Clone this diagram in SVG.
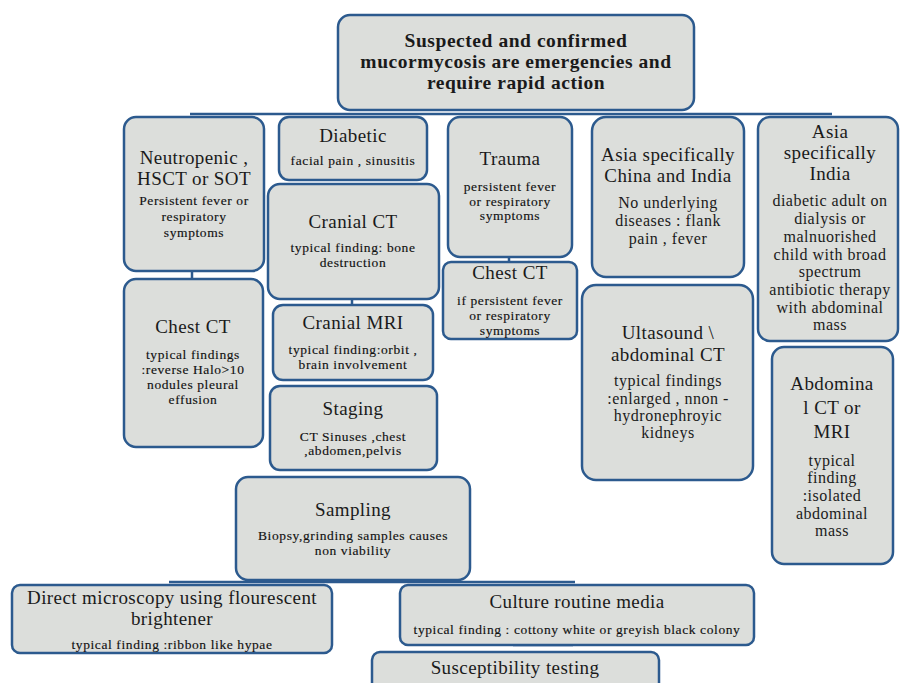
<svg xmlns="http://www.w3.org/2000/svg" width="900" height="683" viewBox="0 0 900 683">
<style>
.box{fill:#dcdedb;stroke:#2c5a8e;stroke-width:2.5}
.t{font-family:"Liberation Serif","DejaVu Serif",serif;fill:#1a1a1a;text-anchor:middle}
.h{font-size:19.5px;font-weight:bold;letter-spacing:0.55px}
.n{font-size:19px;letter-spacing:0.4px}
.s{font-size:13.5px;letter-spacing:0.6px;fill:#111;stroke:#111;stroke-width:0.15px}
.m{font-size:16px;letter-spacing:0.5px}
.c{stroke:#2c5a8e;stroke-width:2.5;fill:none}
</style>
<rect width="900" height="683" fill="#ffffff"/>
<g id="connectors">
<line class="c" x1="190" y1="114" x2="832" y2="114"/>
<line class="c" x1="192" y1="270" x2="192" y2="281"/>
<line class="c" x1="352" y1="298" x2="352" y2="306"/>
<line class="c" x1="509" y1="256" x2="509" y2="264"/>
<line class="c" x1="169" y1="582" x2="575" y2="582"/>
<line class="c" x1="513" y1="645" x2="573" y2="645" stroke-width="4"/>
</g>
<g id="header">
<rect class="box" x="338" y="15" width="356" height="95" rx="12"/>
<text class="t h" x="516" y="47">Suspected and confirmed</text>
<text class="t h" x="516" y="68">mucormycosis are emergencies and</text>
<text class="t h" x="516" y="89">require rapid action</text>
</g>
<g id="neutropenic">
<rect class="box" x="124" y="117" width="140" height="154" rx="12"/>
<text class="t n" x="194" y="164">Neutropenic ,</text>
<text class="t n" x="194" y="185">HSCT or SOT</text>
<text class="t s" x="194" y="205">Persistent fever or</text>
<text class="t s" x="194" y="221">respiratory</text>
<text class="t s" x="194" y="237">symptoms</text>
</g>
<g id="diabetic">
<rect class="box" x="279" y="117" width="148" height="63" rx="10"/>
<text class="t n" x="353" y="142">Diabetic</text>
<text class="t s" x="353" y="165">facial pain , sinusitis</text>
</g>
<g id="cranial-ct">
<rect class="box" x="268" y="184" width="171" height="115" rx="12"/>
<text class="t n" x="353" y="228" font-size="20">Cranial CT</text>
<text class="t s" x="353" y="252">typical finding: bone</text>
<text class="t s" x="353" y="267">destruction</text>
</g>
<g id="trauma">
<rect class="box" x="448" y="117" width="124" height="140" rx="12"/>
<text class="t n" x="510" y="165">Trauma</text>
<text class="t s" x="510" y="191">persistent fever</text>
<text class="t s" x="510" y="206">or respiratory</text>
<text class="t s" x="510" y="220">symptoms</text>
</g>
<g id="chest-ct-trauma">
<rect class="box" x="443" y="262" width="134" height="77" rx="8"/>
<text class="t n" x="510" y="279">Chest CT</text>
<text class="t s" x="510" y="305">if persistent fever</text>
<text class="t s" x="510" y="320">or respiratory</text>
<text class="t s" x="510" y="335">symptoms</text>
</g>
<g id="asia-china-india">
<rect class="box" x="592" y="117" width="152" height="160" rx="14"/>
<text class="t n" x="668" y="161">Asia specifically</text>
<text class="t n" x="668" y="182">China and India</text>
<text class="t m" x="668" y="208">No underlying</text>
<text class="t m" x="668" y="226">diseases : flank</text>
<text class="t m" x="668" y="244">pain , fever</text>
</g>
<g id="asia-india">
<rect class="box" x="758" y="117" width="140" height="224" rx="12"/>
<text class="t n" x="830" y="138">Asia</text>
<text class="t n" x="830" y="159">specifically</text>
<text class="t n" x="830" y="180">India</text>
<text class="t m" x="830" y="206">diabetic adult on</text>
<text class="t m" x="830" y="224">dialysis or</text>
<text class="t m" x="830" y="242">malnuorished</text>
<text class="t m" x="830" y="260">child with broad</text>
<text class="t m" x="830" y="277">spectrum</text>
<text class="t m" x="830" y="295">antibiotic therapy</text>
<text class="t m" x="830" y="313">with abdominal</text>
<text class="t m" x="830" y="330">mass</text>
</g>
<g id="chest-ct">
<rect class="box" x="124" y="279" width="139" height="168" rx="12"/>
<text class="t n" x="193" y="333">Chest CT</text>
<text class="t s" x="193" y="359">typical findings</text>
<text class="t s" x="193" y="374">:reverse Halo&gt;10</text>
<text class="t s" x="193" y="389">nodules pleural</text>
<text class="t s" x="193" y="404">effusion</text>
</g>
<g id="cranial-mri">
<rect class="box" x="273" y="305" width="160" height="75" rx="10"/>
<text class="t n" x="353" y="329">Cranial MRI</text>
<text class="t s" x="353" y="354">typical finding:orbit ,</text>
<text class="t s" x="353" y="369">brain involvement</text>
</g>
<g id="staging">
<rect class="box" x="270" y="386" width="167" height="84" rx="10"/>
<text class="t n" x="353" y="415">Staging</text>
<text class="t s" x="353" y="441">CT Sinuses ,chest</text>
<text class="t s" x="353" y="455">,abdomen,pelvis</text>
</g>
<g id="ultrasound">
<rect class="box" x="582" y="285" width="171" height="195" rx="14"/>
<text class="t n" x="668" y="339" font-size="20">Ultasound \</text>
<text class="t n" x="668" y="361" font-size="20">abdominal  CT</text>
<text class="t m" x="668" y="386">typical findings</text>
<text class="t m" x="668" y="404">:enlarged , nnon -</text>
<text class="t m" x="668" y="421">hydronephroyic</text>
<text class="t m" x="668" y="438">kidneys</text>
</g>
<g id="abdominal-ct-mri">
<rect class="box" x="772" y="347" width="121" height="217" rx="12"/>
<text class="t n" x="832" y="390" font-size="20">Abdomina</text>
<text class="t n" x="832" y="414" font-size="20">l CT or</text>
<text class="t n" x="832" y="438" font-size="20">MRI</text>
<text class="t m" x="832" y="466">typical</text>
<text class="t m" x="832" y="483">finding</text>
<text class="t m" x="832" y="501">:isolated</text>
<text class="t m" x="832" y="519">abdominal</text>
<text class="t m" x="832" y="536">mass</text>
</g>
<g id="sampling">
<rect class="box" x="236" y="477" width="234" height="103" rx="12"/>
<text class="t n" x="353" y="516">Sampling</text>
<text class="t s" x="353" y="540">Biopsy,grinding samples causes</text>
<text class="t s" x="353" y="555">non viability</text>
</g>
<g id="direct-microscopy">
<rect class="box" x="12" y="585" width="320" height="68" rx="8"/>
<text class="t n" x="172" y="604">Direct microscopy using flourescent</text>
<text class="t n" x="172" y="625">brightener</text>
<text class="t s" x="172" y="649">typical finding :ribbon like hypae</text>
</g>
<g id="culture">
<rect class="box" x="400" y="585" width="354" height="60" rx="8"/>
<text class="t n" x="577" y="608">Culture routine media</text>
<text class="t s" x="577" y="634">typical finding : cottony white or greyish black colony</text>
</g>
<g id="susceptibility">
<rect class="box" x="372" y="652" width="287" height="45" rx="8"/>
<text class="t n" x="515" y="674">Susceptibility testing</text>
</g>
</svg>
